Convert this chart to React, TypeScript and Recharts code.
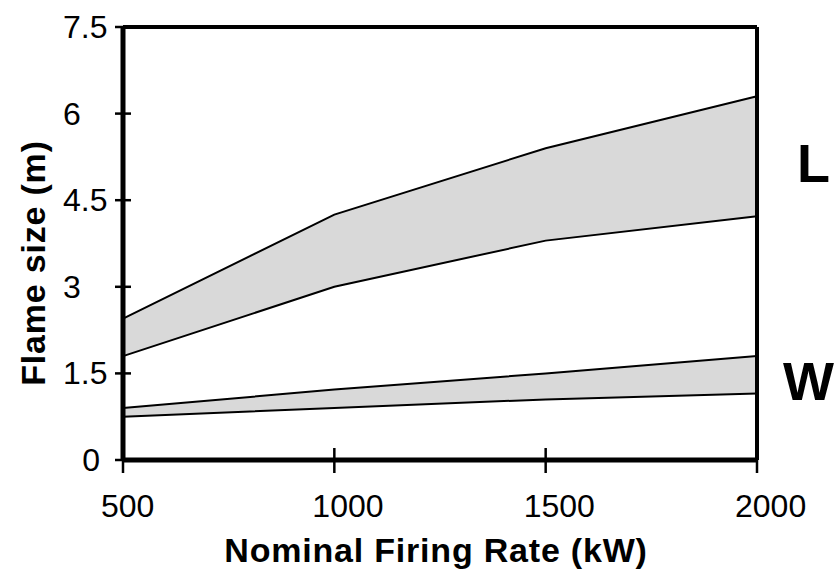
import { ComposedChart, Area, XAxis, YAxis, ReferenceLine } from 'recharts';

// Flame size vs firing rate: length (L) and width (W) bands
const rates = [500, 1000, 1500, 2000];
const lengthLow = [1.8, 3.0, 3.8, 4.22];
const lengthHigh = [2.45, 4.25, 5.4, 6.3];
const widthLow = [0.75, 0.9, 1.05, 1.15];
const widthHigh = [0.9, 1.22, 1.5, 1.8];
const xTicks = [500, 1000, 1500, 2000];
const yTicks = [0, 1.5, 3, 4.5, 6, 7.5];

const FONT = '"Liberation Sans", Arial, sans-serif';

const data = rates.map((r, i) => ({
    rate: r,
    L: [lengthLow[i], lengthHigh[i]],
    W: [widthLow[i], widthHigh[i]],
}));

// tick mark crosses the axis, label left-aligned under it
const XTick = (props: any) => {
    const { x, y, payload } = props;
    return (
        <g>
            <line x1={x} x2={x} y1={y - 12} y2={y + 13} stroke="#000" strokeWidth={2.5} />
            <text x={x - 22} y={y + 57} fontSize={32} fontFamily={FONT} fill="#000" textAnchor="start">
                {payload.value}
            </text>
        </g>
    );
};

const YTick = (props: any) => {
    const { x, y, payload } = props;
    const isZero = payload.value === 0;
    return (
        <g>
            <line x1={x - 8} x2={x + 8} y1={y} y2={y} stroke="#000" strokeWidth={2.5} />
            <text
                x={isZero ? x - 23 : x - 60}
                y={y + 11}
                fontSize={32}
                fontFamily={FONT}
                fill="#000"
                textAnchor={isZero ? 'end' : 'start'}
            >
                {payload.value}
            </text>
        </g>
    );
};

export default function App() {
    return (
        <div style={{ position: 'absolute', left: 0, top: 0, width: 838, height: 570, background: '#fff' }}>
            <ComposedChart width={838} height={570} data={data} margin={{ top: 27, right: 81, bottom: 0, left: 0 }}>
                <XAxis
                    dataKey="rate"
                    type="number"
                    domain={[500, 2000]}
                    ticks={xTicks}
                    height={110}
                    axisLine={{ stroke: '#000', strokeWidth: 5 }}
                    tickLine={false}
                    tickSize={0}
                    tickMargin={0}
                    tick={<XTick />}
                    interval={0}
                />
                <YAxis
                    type="number"
                    domain={[0, 7.5]}
                    ticks={yTicks}
                    width={123}
                    axisLine={{ stroke: '#000', strokeWidth: 5 }}
                    tickLine={false}
                    tickSize={0}
                    tickMargin={0}
                    tick={<YTick />}
                    interval={0}
                />
                <Area
                    dataKey="L"
                    type="linear"
                    stroke="#000"
                    strokeWidth={2}
                    fill="#d9d9d9"
                    fillOpacity={1}
                    dot={false}
                    activeDot={false}
                    isAnimationActive={false}
                />
                <Area
                    dataKey="W"
                    type="linear"
                    stroke="#000"
                    strokeWidth={2}
                    fill="#d9d9d9"
                    fillOpacity={1}
                    dot={false}
                    activeDot={false}
                    isAnimationActive={false}
                />
                <ReferenceLine y={7.5} stroke="#000" strokeWidth={4} />
                <ReferenceLine x={2000} stroke="#000" strokeWidth={4} />
            </ComposedChart>
            {/* axis titles and band labels */}
            <svg width={838} height={570} style={{ position: 'absolute', left: 0, top: 0, pointerEvents: 'none' }}>
                <text x={436} y={562} fontSize={34} fontWeight="bold" fontFamily={FONT} textAnchor="middle" letterSpacing={0.8}>
                    Nominal Firing Rate (kW)
                </text>
                <text
                    x={45}
                    y={263}
                    fontSize={34}
                    fontWeight="bold"
                    fontFamily={FONT}
                    textAnchor="middle"
                    letterSpacing={0.8}
                    transform="rotate(-90 45 263)"
                >
                    Flame size (m)
                </text>
                <text x={797} y={182} fontSize={54} fontWeight="bold" fontFamily={FONT}>L</text>
                <text x={783} y={400} fontSize={54} fontWeight="bold" fontFamily={FONT}>W</text>
            </svg>
        </div>
    );
}
